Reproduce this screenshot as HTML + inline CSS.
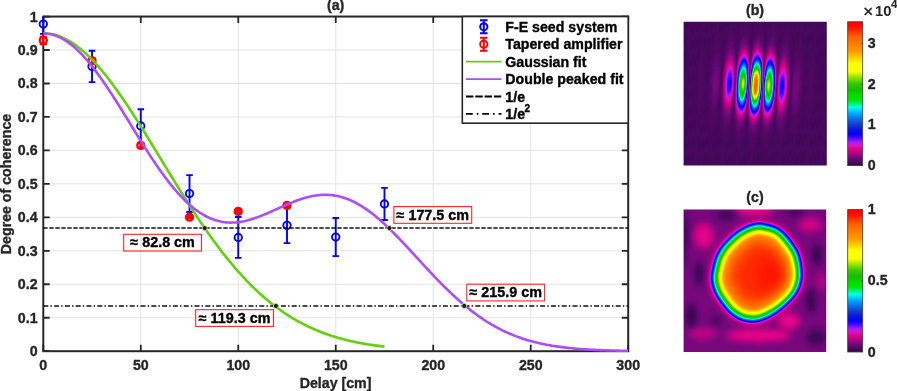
<!DOCTYPE html><html><head><meta charset="utf-8"><style>html,body{margin:0;padding:0;background:#fff;overflow:hidden}svg{display:block;will-change:transform;transform:translateZ(0)}text{font-family:"Liberation Sans",sans-serif;font-weight:bold;fill:#262626;stroke:#262626;stroke-width:0.35px;stroke-linejoin:round}</style></head><body>
<svg width="897" height="391" viewBox="0 0 897 391">
<rect width="897" height="391" fill="#fff"/>
<defs>
<filter id="cm" x="0" y="0" width="1" height="1" color-interpolation-filters="sRGB"><feComponentTransfer><feFuncR type="table" tableValues="0.204 0.235 0.267 0.310 0.364 0.418 0.482 0.559 0.636 0.710 0.781 0.852 0.886 0.866 0.845 0.768 0.683 0.569 0.448 0.326 0.213 0.101 0.001 0.007 0.013 0.020 0.035 0.050 0.065 0.064 0.053 0.042 0.031 0.024 0.017 0.009 0.002 0.000 0.000 0.000 0.000 0.000 0.000 0.000 0.000 0.000 0.000 0.000 0.000 0.000 0.023 0.047 0.070 0.094 0.122 0.149 0.177 0.204 0.289 0.373 0.458 0.543 0.627 0.734 0.840 0.947 1.000 1.000 1.000 1.000 1.000 1.000 1.000 1.000 1.000 1.000 1.000 1.000 1.000 1.000 1.000 1.000 1.000 1.000 1.000 1.000 1.000 1.000 1.000 1.000 1.000 1.000 1.000 1.000 1.000 1.000 1.000 1.000 1.000 1.000 1.000"/><feFuncG type="table" tableValues="0.031 0.031 0.031 0.031 0.031 0.031 0.029 0.024 0.018 0.013 0.008 0.003 0.013 0.044 0.075 0.095 0.114 0.096 0.069 0.042 0.027 0.013 0.003 0.031 0.058 0.086 0.128 0.169 0.211 0.258 0.309 0.361 0.412 0.471 0.530 0.590 0.649 0.722 0.802 0.881 0.960 0.990 0.970 0.949 0.929 0.908 0.892 0.885 0.878 0.871 0.835 0.799 0.762 0.741 0.751 0.762 0.773 0.784 0.809 0.835 0.860 0.885 0.910 0.936 0.961 0.987 1.000 1.000 1.000 1.000 1.000 1.000 0.959 0.908 0.859 0.814 0.768 0.723 0.678 0.633 0.588 0.569 0.549 0.529 0.510 0.490 0.467 0.445 0.422 0.399 0.360 0.315 0.269 0.223 0.178 0.131 0.085 0.039 0.026 0.013 0.000"/><feFuncB type="table" tableValues="0.314 0.333 0.351 0.382 0.423 0.465 0.493 0.500 0.506 0.510 0.510 0.510 0.554 0.664 0.773 0.872 0.969 0.991 0.996 1.000 1.000 1.000 0.996 0.958 0.920 0.882 0.856 0.829 0.803 0.812 0.844 0.877 0.910 0.931 0.952 0.973 0.994 0.987 0.968 0.950 0.931 0.830 0.648 0.465 0.290 0.119 0.000 0.000 0.000 0.000 0.000 0.000 0.000 0.000 0.000 0.000 0.000 0.000 0.000 0.000 0.000 0.000 0.000 0.000 0.000 0.000 0.000 0.000 0.000 0.000 0.000 0.000 0.000 0.000 0.000 0.000 0.000 0.000 0.000 0.000 0.000 0.000 0.000 0.000 0.000 0.000 0.000 0.000 0.000 0.000 0.000 0.000 0.000 0.000 0.000 0.000 0.000 0.000 0.000 0.000 0.000"/></feComponentTransfer></filter>
<filter id="bl" x="-0.2" y="-0.2" width="1.4" height="1.4" color-interpolation-filters="sRGB"><feGaussianBlur stdDeviation="2.6"/></filter>
<filter id="cmb" x="0" y="0" width="1" height="1" color-interpolation-filters="sRGB"><feGaussianBlur stdDeviation="2.6"/><feComponentTransfer><feFuncR type="table" tableValues="0.204 0.235 0.267 0.310 0.364 0.418 0.482 0.559 0.636 0.710 0.781 0.852 0.886 0.866 0.845 0.768 0.683 0.569 0.448 0.326 0.213 0.101 0.001 0.007 0.013 0.020 0.035 0.050 0.065 0.064 0.053 0.042 0.031 0.024 0.017 0.009 0.002 0.000 0.000 0.000 0.000 0.000 0.000 0.000 0.000 0.000 0.000 0.000 0.000 0.000 0.023 0.047 0.070 0.094 0.122 0.149 0.177 0.204 0.289 0.373 0.458 0.543 0.627 0.734 0.840 0.947 1.000 1.000 1.000 1.000 1.000 1.000 1.000 1.000 1.000 1.000 1.000 1.000 1.000 1.000 1.000 1.000 1.000 1.000 1.000 1.000 1.000 1.000 1.000 1.000 1.000 1.000 1.000 1.000 1.000 1.000 1.000 1.000 1.000 1.000 1.000"/><feFuncG type="table" tableValues="0.031 0.031 0.031 0.031 0.031 0.031 0.029 0.024 0.018 0.013 0.008 0.003 0.013 0.044 0.075 0.095 0.114 0.096 0.069 0.042 0.027 0.013 0.003 0.031 0.058 0.086 0.128 0.169 0.211 0.258 0.309 0.361 0.412 0.471 0.530 0.590 0.649 0.722 0.802 0.881 0.960 0.990 0.970 0.949 0.929 0.908 0.892 0.885 0.878 0.871 0.835 0.799 0.762 0.741 0.751 0.762 0.773 0.784 0.809 0.835 0.860 0.885 0.910 0.936 0.961 0.987 1.000 1.000 1.000 1.000 1.000 1.000 0.959 0.908 0.859 0.814 0.768 0.723 0.678 0.633 0.588 0.569 0.549 0.529 0.510 0.490 0.467 0.445 0.422 0.399 0.360 0.315 0.269 0.223 0.178 0.131 0.085 0.039 0.026 0.013 0.000"/><feFuncB type="table" tableValues="0.314 0.333 0.351 0.382 0.423 0.465 0.493 0.500 0.506 0.510 0.510 0.510 0.554 0.664 0.773 0.872 0.969 0.991 0.996 1.000 1.000 1.000 0.996 0.958 0.920 0.882 0.856 0.829 0.803 0.812 0.844 0.877 0.910 0.931 0.952 0.973 0.994 0.987 0.968 0.950 0.931 0.830 0.648 0.465 0.290 0.119 0.000 0.000 0.000 0.000 0.000 0.000 0.000 0.000 0.000 0.000 0.000 0.000 0.000 0.000 0.000 0.000 0.000 0.000 0.000 0.000 0.000 0.000 0.000 0.000 0.000 0.000 0.000 0.000 0.000 0.000 0.000 0.000 0.000 0.000 0.000 0.000 0.000 0.000 0.000 0.000 0.000 0.000 0.000 0.000 0.000 0.000 0.000 0.000 0.000 0.000 0.000 0.000 0.000 0.000 0.000"/></feComponentTransfer></filter>
<linearGradient id="cbg" x1="0" y1="0" x2="0" y2="1"><stop offset="0.000" stop-color="rgb(255,0,0)"/><stop offset="0.030" stop-color="rgb(255,10,0)"/><stop offset="0.064" stop-color="rgb(255,50,0)"/><stop offset="0.107" stop-color="rgb(255,100,0)"/><stop offset="0.150" stop-color="rgb(255,125,0)"/><stop offset="0.200" stop-color="rgb(255,150,0)"/><stop offset="0.235" stop-color="rgb(255,190,0)"/><stop offset="0.265" stop-color="rgb(255,225,0)"/><stop offset="0.288" stop-color="rgb(255,255,0)"/><stop offset="0.345" stop-color="rgb(255,255,0)"/><stop offset="0.380" stop-color="rgb(160,232,0)"/><stop offset="0.430" stop-color="rgb(52,200,0)"/><stop offset="0.473" stop-color="rgb(22,188,0)"/><stop offset="0.510" stop-color="rgb(0,222,0)"/><stop offset="0.543" stop-color="rgb(0,228,0)"/><stop offset="0.566" stop-color="rgb(0,240,100)"/><stop offset="0.595" stop-color="rgb(0,255,235)"/><stop offset="0.637" stop-color="rgb(0,170,255)"/><stop offset="0.680" stop-color="rgb(8,105,232)"/><stop offset="0.716" stop-color="rgb(18,58,202)"/><stop offset="0.750" stop-color="rgb(5,22,225)"/><stop offset="0.781" stop-color="rgb(0,0,255)"/><stop offset="0.809" stop-color="rgb(80,10,255)"/><stop offset="0.838" stop-color="rgb(170,30,252)"/><stop offset="0.859" stop-color="rgb(215,20,200)"/><stop offset="0.884" stop-color="rgb(228,0,130)"/><stop offset="0.915" stop-color="rgb(172,4,130)"/><stop offset="0.944" stop-color="rgb(115,8,125)"/><stop offset="0.975" stop-color="rgb(72,8,92)"/><stop offset="1.000" stop-color="rgb(52,8,80)"/></linearGradient>
<radialGradient id="env" gradientUnits="userSpaceOnUse" cx="755.9" cy="84.8" r="70" gradientTransform="translate(0 84.8) scale(1 1.02) translate(0 -84.8)"><stop offset="0.0000" stop-color="#e8e8e8"/><stop offset="0.0286" stop-color="#e7e7e7"/><stop offset="0.0571" stop-color="#e5e5e5"/><stop offset="0.0857" stop-color="#e1e1e1"/><stop offset="0.1143" stop-color="#d7d7d7"/><stop offset="0.1429" stop-color="#c8c8c8"/><stop offset="0.1714" stop-color="#b3b3b3"/><stop offset="0.2000" stop-color="#9c9c9c"/><stop offset="0.2286" stop-color="#8c8c8c"/><stop offset="0.2571" stop-color="#7d7d7d"/><stop offset="0.2857" stop-color="#6d6d6d"/><stop offset="0.3143" stop-color="#5d5d5d"/><stop offset="0.3429" stop-color="#4d4d4d"/><stop offset="0.3714" stop-color="#3f3f3f"/><stop offset="0.4000" stop-color="#333333"/><stop offset="0.4286" stop-color="#2a2a2a"/><stop offset="0.4571" stop-color="#222222"/><stop offset="0.4857" stop-color="#1c1c1c"/><stop offset="0.5143" stop-color="#171717"/><stop offset="0.5429" stop-color="#131313"/><stop offset="0.5714" stop-color="#101010"/><stop offset="0.6000" stop-color="#0e0e0e"/><stop offset="0.6286" stop-color="#0c0c0c"/><stop offset="0.6571" stop-color="#0b0b0b"/><stop offset="0.6857" stop-color="#0a0a0a"/><stop offset="0.7143" stop-color="#090909"/><stop offset="0.7429" stop-color="#080808"/><stop offset="0.7714" stop-color="#080808"/><stop offset="0.8000" stop-color="#080808"/><stop offset="0.8286" stop-color="#070707"/><stop offset="0.8571" stop-color="#070707"/><stop offset="0.8857" stop-color="#070707"/><stop offset="0.9143" stop-color="#060606"/><stop offset="0.9429" stop-color="#060606"/><stop offset="0.9714" stop-color="#060606"/><stop offset="1.0000" stop-color="#060606"/></radialGradient>
<linearGradient id="fr" gradientUnits="userSpaceOnUse" x1="748.925" y1="0" x2="762.875" y2="0" spreadMethod="repeat" gradientTransform="rotate(3.4 755.9 84.8)"><stop offset="0.0000" stop-color="#060606"/><stop offset="0.0417" stop-color="#1c1c1c"/><stop offset="0.0833" stop-color="#373737"/><stop offset="0.1250" stop-color="#555555"/><stop offset="0.1667" stop-color="#737373"/><stop offset="0.2083" stop-color="#8f8f8f"/><stop offset="0.2500" stop-color="#aaaaaa"/><stop offset="0.2917" stop-color="#c3c3c3"/><stop offset="0.3333" stop-color="#d8d8d8"/><stop offset="0.3750" stop-color="#e8e8e8"/><stop offset="0.4167" stop-color="#f5f5f5"/><stop offset="0.4583" stop-color="#fcfcfc"/><stop offset="0.5000" stop-color="#ffffff"/><stop offset="0.5417" stop-color="#fcfcfc"/><stop offset="0.5833" stop-color="#f5f5f5"/><stop offset="0.6250" stop-color="#e8e8e8"/><stop offset="0.6667" stop-color="#d8d8d8"/><stop offset="0.7083" stop-color="#c3c3c3"/><stop offset="0.7500" stop-color="#aaaaaa"/><stop offset="0.7917" stop-color="#8f8f8f"/><stop offset="0.8333" stop-color="#737373"/><stop offset="0.8750" stop-color="#555555"/><stop offset="0.9167" stop-color="#373737"/><stop offset="0.9583" stop-color="#1c1c1c"/><stop offset="1.0000" stop-color="#060606"/></linearGradient>
<mask id="frm" maskUnits="userSpaceOnUse" x="680" y="20" width="150" height="150"><rect x="680" y="20" width="150" height="150" fill="url(#fr)"/></mask>
<radialGradient id="disc" gradientUnits="userSpaceOnUse" cx="756.9" cy="272.8" r="42.6" gradientTransform="translate(0 272.8) scale(1 1.106) translate(0 -272.8)"><stop offset="0" stop-color="#f1f1f1"/><stop offset="0.5" stop-color="#ededed"/><stop offset="0.68" stop-color="#dfdfdf"/><stop offset="0.76" stop-color="#cfcfcf"/><stop offset="0.84" stop-color="#bfbfbf"/><stop offset="0.92" stop-color="#b2b2b2"/><stop offset="1.0" stop-color="#a3a3a3"/></radialGradient>
<radialGradient id="hot"><stop offset="0" stop-color="#fff" stop-opacity="0.45"/><stop offset="0.5" stop-color="#fff" stop-opacity="0.25"/><stop offset="1" stop-color="#fff" stop-opacity="0"/></radialGradient>
<clipPath id="cpb"><rect x="683.6" y="21.8" width="143.2" height="143.8"/></clipPath>
<clipPath id="cpc"><rect x="683.6" y="209.6" width="142.6" height="142.4"/></clipPath>
<clipPath id="cp"><rect x="43.3" y="16.55" width="584.9000000000001" height="335.65"/></clipPath>
</defs>
<path d="M140.78 16.55V351.2M238.27 16.55V351.2M335.75 16.55V351.2M433.23 16.55V351.2M530.72 16.55V351.2M43.3 317.74H628.2M43.3 284.27H628.2M43.3 250.81H628.2M43.3 217.34H628.2M43.3 183.88H628.2M43.3 150.41H628.2M43.3 116.95H628.2M43.3 83.48H628.2M43.3 50.01H628.2" stroke="#e3e3e3" stroke-width="1" fill="none"/>
<path d="M43.30 351.2v-6.4M43.30 16.55v6.4M140.78 351.2v-6.4M140.78 16.55v6.4M238.27 351.2v-6.4M238.27 16.55v6.4M335.75 351.2v-6.4M335.75 16.55v6.4M433.23 351.2v-6.4M433.23 16.55v6.4M530.72 351.2v-6.4M530.72 16.55v6.4M628.20 351.2v-6.4M628.20 16.55v6.4M43.3 351.20h6.4M628.2 351.20h-6.4M43.3 317.74h6.4M628.2 317.74h-6.4M43.3 284.27h6.4M628.2 284.27h-6.4M43.3 250.81h6.4M628.2 250.81h-6.4M43.3 217.34h6.4M628.2 217.34h-6.4M43.3 183.88h6.4M628.2 183.88h-6.4M43.3 150.41h6.4M628.2 150.41h-6.4M43.3 116.95h6.4M628.2 116.95h-6.4M43.3 83.48h6.4M628.2 83.48h-6.4M43.3 50.01h6.4M628.2 50.01h-6.4M43.3 16.55h6.4M628.2 16.55h-6.4" stroke="#262626" stroke-width="1.8" fill="none"/>
<rect x="43.3" y="16.55" width="584.9000000000001" height="334.65" stroke="#262626" stroke-width="2.0" fill="none"/>
<path d="M43.30 16.55V33.88M40.00 33.88H46.60" stroke="#0000ff" stroke-width="1.9" fill="none"/><circle cx="43.30" cy="24.05" r="3.7" stroke="#0000ff" stroke-width="1.9" fill="none"/>
<path d="M92.04 50.68V82.14M88.74 50.68H95.34M88.74 82.14H95.34" stroke="#0000ff" stroke-width="1.9" fill="none"/><circle cx="92.04" cy="66.41" r="3.7" stroke="#0000ff" stroke-width="1.9" fill="none"/>
<path d="M140.78 109.25V142.71M137.48 109.25H144.08M137.48 142.71H144.08" stroke="#0000ff" stroke-width="1.9" fill="none"/><circle cx="140.78" cy="125.98" r="3.7" stroke="#0000ff" stroke-width="1.9" fill="none"/>
<path d="M189.53 175.17V211.99M186.23 175.17H192.83M186.23 211.99H192.83" stroke="#0000ff" stroke-width="1.9" fill="none"/><circle cx="189.53" cy="193.58" r="3.7" stroke="#0000ff" stroke-width="1.9" fill="none"/>
<path d="M238.27 217.01V257.83M234.97 217.01H241.57M234.97 257.83H241.57" stroke="#0000ff" stroke-width="1.9" fill="none"/><circle cx="238.27" cy="237.42" r="3.7" stroke="#0000ff" stroke-width="1.9" fill="none"/>
<path d="M287.01 207.64V243.11M283.71 207.64H290.31M283.71 243.11H290.31" stroke="#0000ff" stroke-width="1.9" fill="none"/><circle cx="287.01" cy="225.37" r="3.7" stroke="#0000ff" stroke-width="1.9" fill="none"/>
<path d="M335.75 218.01V256.16M332.45 218.01H339.05M332.45 256.16H339.05" stroke="#0000ff" stroke-width="1.9" fill="none"/><circle cx="335.75" cy="237.08" r="3.7" stroke="#0000ff" stroke-width="1.9" fill="none"/>
<path d="M384.49 187.89V220.02M381.19 187.89H387.79M381.19 220.02H387.79" stroke="#0000ff" stroke-width="1.9" fill="none"/><circle cx="384.49" cy="203.95" r="3.7" stroke="#0000ff" stroke-width="1.9" fill="none"/>
<path d="M43.30 36.80V44.02M39.80 36.80H46.80M39.80 44.02H46.80" stroke="#ff0000" stroke-width="2.3" fill="none"/><circle cx="43.30" cy="40.41" r="3.5" stroke="#ff0000" stroke-width="2.3" fill="none"/>
<path d="M92.04 58.05V63.40M88.54 58.05H95.54M88.54 63.40H95.54" stroke="#ff0000" stroke-width="2.3" fill="none"/><circle cx="92.04" cy="60.72" r="3.5" stroke="#ff0000" stroke-width="2.3" fill="none"/>
<path d="M140.78 143.45V147.47M137.28 143.45H144.28M137.28 147.47H144.28" stroke="#ff0000" stroke-width="2.3" fill="none"/><circle cx="140.78" cy="145.46" r="3.5" stroke="#ff0000" stroke-width="2.3" fill="none"/>
<path d="M189.53 216.20V218.21M186.03 216.20H193.03M186.03 218.21H193.03" stroke="#ff0000" stroke-width="2.3" fill="none"/><circle cx="189.53" cy="217.21" r="3.5" stroke="#ff0000" stroke-width="2.3" fill="none"/>
<path d="M238.27 210.18V212.59M234.77 210.18H241.77M234.77 212.59H241.77" stroke="#ff0000" stroke-width="2.3" fill="none"/><circle cx="238.27" cy="211.38" r="3.5" stroke="#ff0000" stroke-width="2.3" fill="none"/>
<path d="M287.01 204.39V206.40M283.51 204.39H290.51M283.51 206.40H290.51" stroke="#ff0000" stroke-width="2.3" fill="none"/><circle cx="287.01" cy="205.39" r="3.5" stroke="#ff0000" stroke-width="2.3" fill="none"/>
<g clip-path="url(#cp)">
<path d="M43.30 33.28L45.25 33.33L47.20 33.46L49.15 33.68L51.10 33.99L53.05 34.38L55.00 34.86L56.95 35.43L58.90 36.09L60.85 36.83L62.80 37.65L64.75 38.56L66.70 39.56L68.65 40.63L70.60 41.79L72.55 43.03L74.49 44.35L76.44 45.75L78.39 47.22L80.34 48.78L82.29 50.41L84.24 52.11L86.19 53.88L88.14 55.73L90.09 57.64L92.04 59.63L93.99 61.68L95.94 63.80L97.89 65.97L99.84 68.22L101.79 70.52L103.74 72.88L105.69 75.29L107.64 77.76L109.59 80.29L111.54 82.86L113.49 85.49L115.44 88.16L117.39 90.88L119.34 93.63L121.29 96.44L123.24 99.28L125.19 102.15L127.14 105.07L129.09 108.01L131.04 110.99L132.98 114.00L134.93 117.03L136.88 120.09L138.83 123.17L140.78 126.27L142.73 129.40L144.68 132.54L146.63 135.69L148.58 138.86L150.53 142.04L152.48 145.23L154.43 148.42L156.38 151.63L158.33 154.83L160.28 158.04L162.23 161.25L164.18 164.45L166.13 167.66L168.08 170.86L170.03 174.05L171.98 177.23L173.93 180.40L175.88 183.56L177.83 186.71L179.78 189.85L181.73 192.97L183.68 196.07L185.63 199.15L187.58 202.21L189.53 205.25L191.47 208.27L193.42 211.27L195.37 214.24L197.32 217.18L199.27 220.10L201.22 222.99L203.17 225.85L205.12 228.68L207.07 231.48L209.02 234.24L210.97 236.98L212.92 239.68L214.87 242.35L216.82 244.99L218.77 247.58L220.72 250.15L222.67 252.68L224.62 255.17L226.57 257.62L228.52 260.04L230.47 262.41L232.42 264.76L234.37 267.06L236.32 269.32L238.27 271.54L240.22 273.73L242.17 275.88L244.12 277.98L246.07 280.05L248.02 282.08L249.96 284.07L251.91 286.02L253.86 287.93L255.81 289.80L257.76 291.64L259.71 293.43L261.66 295.19L263.61 296.90L265.56 298.58L267.51 300.22L269.46 301.83L271.41 303.40L273.36 304.93L275.31 306.42L277.26 307.88L279.21 309.30L281.16 310.68L283.11 312.03L285.06 313.35L287.01 314.63L288.96 315.88L290.91 317.10L292.86 318.28L294.81 319.43L296.76 320.55L298.71 321.64L300.66 322.69L302.61 323.72L304.56 324.72L306.51 325.68L308.45 326.62L310.40 327.53L312.35 328.42L314.30 329.28L316.25 330.11L318.20 330.91L320.15 331.69L322.10 332.44L324.05 333.18L326.00 333.88L327.95 334.57L329.90 335.23L331.85 335.87L333.80 336.48L335.75 337.08L337.70 337.66L339.65 338.21L341.60 338.75L343.55 339.27L345.50 339.77L347.45 340.25L349.40 340.71L351.35 341.16L353.30 341.59L355.25 342.01L357.20 342.41L359.15 342.79L361.10 343.16L363.05 343.52L365.00 343.86L366.94 344.19L368.89 344.50L370.84 344.81L372.79 345.10L374.74 345.38L376.69 345.65L378.64 345.90L380.59 346.15L382.54 346.39L384.49 346.61" stroke="#62d00c" stroke-width="2.6" fill="none" stroke-linejoin="round"/>
<path d="M43.30 33.53L45.25 33.55L47.20 33.69L49.15 33.95L51.10 34.32L53.05 34.80L55.00 35.40L56.95 36.11L58.90 36.93L60.85 37.86L62.80 38.90L64.75 40.05L66.70 41.30L68.65 42.66L70.60 44.12L72.55 45.68L74.49 47.34L76.44 49.09L78.39 50.94L80.34 52.88L82.29 54.91L84.24 57.02L86.19 59.22L88.14 61.49L90.09 63.85L92.04 66.27L93.99 68.77L95.94 71.34L97.89 73.97L99.84 76.66L101.79 79.41L103.74 82.21L105.69 85.07L107.64 87.97L109.59 90.92L111.54 93.90L113.49 96.92L115.44 99.97L117.39 103.06L119.34 106.16L121.29 109.29L123.24 112.43L125.19 115.59L127.14 118.76L129.09 121.93L131.04 125.11L132.98 128.28L134.93 131.45L136.88 134.61L138.83 137.76L140.78 140.89L142.73 144.00L144.68 147.08L146.63 150.14L148.58 153.17L150.53 156.17L152.48 159.13L154.43 162.04L156.38 164.92L158.33 167.75L160.28 170.53L162.23 173.26L164.18 175.93L166.13 178.54L168.08 181.10L170.03 183.59L171.98 186.02L173.93 188.38L175.88 190.67L177.83 192.90L179.78 195.04L181.73 197.12L183.68 199.12L185.63 201.04L187.58 202.88L189.53 204.64L191.47 206.32L193.42 207.92L195.37 209.44L197.32 210.87L199.27 212.22L201.22 213.48L203.17 214.66L205.12 215.76L207.07 216.77L209.02 217.70L210.97 218.54L212.92 219.31L214.87 219.98L216.82 220.58L218.77 221.10L220.72 221.54L222.67 221.90L224.62 222.18L226.57 222.39L228.52 222.52L230.47 222.58L232.42 222.57L234.37 222.49L236.32 222.35L238.27 222.14L240.22 221.88L242.17 221.55L244.12 221.17L246.07 220.73L248.02 220.24L249.96 219.70L251.91 219.12L253.86 218.50L255.81 217.83L257.76 217.14L259.71 216.40L261.66 215.64L263.61 214.85L265.56 214.04L267.51 213.21L269.46 212.36L271.41 211.49L273.36 210.62L275.31 209.74L277.26 208.86L279.21 207.98L281.16 207.10L283.11 206.23L285.06 205.37L287.01 204.52L288.96 203.69L290.91 202.88L292.86 202.09L294.81 201.33L296.76 200.59L298.71 199.89L300.66 199.22L302.61 198.59L304.56 198.00L306.51 197.45L308.45 196.95L310.40 196.50L312.35 196.09L314.30 195.74L316.25 195.44L318.20 195.19L320.15 195.00L322.10 194.87L324.05 194.80L326.00 194.79L327.95 194.85L329.90 194.97L331.85 195.15L333.80 195.40L335.75 195.71L337.70 196.09L339.65 196.54L341.60 197.05L343.55 197.64L345.50 198.28L347.45 199.00L349.40 199.78L351.35 200.63L353.30 201.54L355.25 202.52L357.20 203.56L359.15 204.67L361.10 205.83L363.05 207.06L365.00 208.34L366.94 209.68L368.89 211.08L370.84 212.54L372.79 214.04L374.74 215.60L376.69 217.20L378.64 218.86L380.59 220.56L382.54 222.30L384.49 224.08L386.44 225.90L388.39 227.76L390.34 229.65L392.29 231.57L394.24 233.53L396.19 235.51L398.14 237.51L400.09 239.54L402.04 241.59L403.99 243.66L405.94 245.74L407.89 247.83L409.84 249.94L411.79 252.05L413.74 254.17L415.69 256.29L417.64 258.42L419.59 260.55L421.54 262.67L423.49 264.79L425.43 266.90L427.38 269.00L429.33 271.09L431.28 273.17L433.23 275.24L435.18 277.28L437.13 279.32L439.08 281.33L441.03 283.32L442.98 285.29L444.93 287.23L446.88 289.15L448.83 291.05L450.78 292.92L452.73 294.76L454.68 296.57L456.63 298.35L458.58 300.09L460.53 301.81L462.48 303.49L464.43 305.14L466.38 306.76L468.33 308.34L470.28 309.89L472.23 311.41L474.18 312.88L476.13 314.33L478.08 315.73L480.03 317.10L481.98 318.44L483.92 319.74L485.87 321.00L487.82 322.23L489.77 323.43L491.72 324.58L493.67 325.71L495.62 326.80L497.57 327.85L499.52 328.87L501.47 329.86L503.42 330.81L505.37 331.74L507.32 332.63L509.27 333.48L511.22 334.31L513.17 335.11L515.12 335.88L517.07 336.62L519.02 337.33L520.97 338.01L522.92 338.67L524.87 339.30L526.82 339.90L528.77 340.48L530.72 341.04L532.67 341.57L534.62 342.08L536.57 342.56L538.52 343.03L540.47 343.47L542.41 343.89L544.36 344.30L546.31 344.68L548.26 345.05L550.21 345.40L552.16 345.73L554.11 346.05L556.06 346.35L558.01 346.63L559.96 346.90L561.91 347.16L563.86 347.40L565.81 347.63L567.76 347.85L569.71 348.06L571.66 348.25L573.61 348.44L575.56 348.61L577.51 348.78L579.46 348.93L581.41 349.08L583.36 349.22L585.31 349.35L587.26 349.47L589.21 349.59L591.16 349.69L593.11 349.80L595.06 349.89L597.01 349.98L598.96 350.07L600.90 350.15L602.85 350.22L604.80 350.29L606.75 350.35L608.70 350.41L610.65 350.47L612.60 350.52L614.55 350.57L616.50 350.62L618.45 350.66L620.40 350.70L622.35 350.74L624.30 350.77L626.25 350.81L628.20 350.84" stroke="#ad4dfa" stroke-width="2.6" fill="none" stroke-linejoin="round"/>
</g>
<path d="M43.3 228.09H628.2" stroke="#111" stroke-width="1.5" stroke-dasharray="4.4 1.6" fill="none"/>
<path d="M43.3 305.91H628.2" stroke="#111" stroke-width="1.5" stroke-dasharray="5 2.1 1.5 2.2" fill="none"/>
<circle cx="204.73" cy="228.09" r="2.55" fill="#1c1c10" stroke="#f2f2c0" stroke-width="0.8"/>
<circle cx="389.37" cy="228.09" r="2.55" fill="#1c1c10" stroke="#f2f2c0" stroke-width="0.8"/>
<circle cx="275.90" cy="305.91" r="2.55" fill="#1c1c10" stroke="#f2f2c0" stroke-width="0.8"/>
<circle cx="464.23" cy="305.91" r="2.55" fill="#1c1c10" stroke="#f2f2c0" stroke-width="0.8"/>
<text x="43.30" y="369.7" font-size="14.2" text-anchor="middle">0</text>
<text x="140.78" y="369.7" font-size="14.2" text-anchor="middle">50</text>
<text x="238.27" y="369.7" font-size="14.2" text-anchor="middle">100</text>
<text x="335.75" y="369.7" font-size="14.2" text-anchor="middle">150</text>
<text x="433.23" y="369.7" font-size="14.2" text-anchor="middle">200</text>
<text x="530.72" y="369.7" font-size="14.2" text-anchor="middle">250</text>
<text x="628.20" y="369.7" font-size="14.2" text-anchor="middle">300</text>
<text x="37.6" y="356.20" font-size="14.2" text-anchor="end">0</text>
<text x="37.6" y="322.74" font-size="14.2" text-anchor="end">0.1</text>
<text x="37.6" y="289.27" font-size="14.2" text-anchor="end">0.2</text>
<text x="37.6" y="255.81" font-size="14.2" text-anchor="end">0.3</text>
<text x="37.6" y="222.34" font-size="14.2" text-anchor="end">0.4</text>
<text x="37.6" y="188.88" font-size="14.2" text-anchor="end">0.5</text>
<text x="37.6" y="155.41" font-size="14.2" text-anchor="end">0.6</text>
<text x="37.6" y="121.95" font-size="14.2" text-anchor="end">0.7</text>
<text x="37.6" y="88.48" font-size="14.2" text-anchor="end">0.8</text>
<text x="37.6" y="55.01" font-size="14.2" text-anchor="end">0.9</text>
<text x="37.6" y="21.55" font-size="14.2" text-anchor="end">1</text>
<text x="335.6" y="388" font-size="14.2" text-anchor="middle">Delay [cm]</text>
<text x="335.6" y="9.8" font-size="14.2" text-anchor="middle">(a)</text>
<text transform="translate(11.2 184) rotate(-90)" font-size="14.2" text-anchor="middle">Degree of coherence</text>
<rect x="123.7" y="234.3" width="77.8" height="16.7" fill="none" stroke="#ff2626" stroke-width="1.1"/><text x="162.60" y="247.20" font-size="14.35" text-anchor="middle" style="fill:#000;stroke:#000">≈ 82.8 cm</text>
<rect x="195.7" y="309.7" width="77.8" height="16.7" fill="none" stroke="#ff2626" stroke-width="1.1"/><text x="234.60" y="322.60" font-size="14.35" text-anchor="middle" style="fill:#000;stroke:#000">≈ 119.3 cm</text>
<rect x="393.9" y="206.6" width="77.8" height="16.7" fill="none" stroke="#ff2626" stroke-width="1.1"/><text x="432.80" y="219.50" font-size="14.35" text-anchor="middle" style="fill:#000;stroke:#000">≈ 177.5 cm</text>
<rect x="466.8" y="284.2" width="77.8" height="16.7" fill="none" stroke="#ff2626" stroke-width="1.1"/><text x="505.70" y="297.10" font-size="14.35" text-anchor="middle" style="fill:#000;stroke:#000">≈ 215.9 cm</text>
<rect x="462.3" y="16.55" width="165.90000000000003" height="106.65" fill="#fff" stroke="#262626" stroke-width="1.6"/>
<text x="505.3" y="31.80" font-size="14.2" style="fill:#000;stroke:#000">F-E seed system</text>
<text x="505.3" y="49.20" font-size="14.2" style="fill:#000;stroke:#000">Tapered amplifier</text>
<text x="505.3" y="66.70" font-size="14.2" style="fill:#000;stroke:#000">Gaussian fit</text>
<text x="505.3" y="84.10" font-size="14.2" style="fill:#000;stroke:#000">Double peaked fit</text>
<text x="505.3" y="101.50" font-size="14.2" style="fill:#000;stroke:#000">1/e</text>
<text x="505.3" y="118.90" font-size="14.2" style="fill:#000;stroke:#000">1/e</text>
<text x="524.6" y="112.0" font-size="10" style="fill:#000;stroke:#000">2</text>
<path d="M483.8 20.3V33.3M480.0 20.3H487.6M480.0 33.3H487.6" stroke="#0000ff" stroke-width="2" fill="none"/><circle cx="483.8" cy="26.8" r="3.6" stroke="#0000ff" stroke-width="2" fill="none"/>
<path d="M483.8 37.7V50.7M480.0 37.7H487.6M480.0 50.7H487.6" stroke="#ff0000" stroke-width="2" fill="none"/><circle cx="483.8" cy="44.2" r="3.6" stroke="#ff0000" stroke-width="2" fill="none"/>
<path d="M466 61.7H501.5" stroke="#62d00c" stroke-width="1.7"/>
<path d="M466 79.1H501.5" stroke="#ad4dfa" stroke-width="1.7"/>
<path d="M466 96.5H501.5" stroke="#000" stroke-width="1.8" stroke-dasharray="7.4 1.9"/>
<path d="M466 113.9H501.5" stroke="#000" stroke-width="1.8" stroke-dasharray="6.7 4 1.7 3.9"/>
<text x="755" y="14.7" font-size="14.2" text-anchor="middle">(b)</text>
<g clip-path="url(#cpb)"><g filter="url(#cm)">
<rect x="680" y="20" width="150" height="150" fill="#060606"/>
<rect x="680" y="20" width="150" height="150" fill="url(#env)" mask="url(#frm)" style="mix-blend-mode:normal"/>
</g></g>
<rect x="847.7" y="21.8" width="15" height="143.8" fill="url(#cbg)" stroke="#3a3a3a" stroke-width="0.8"/>
<text x="867.8" y="170.00" font-size="14.2">0</text>
<text x="867.8" y="129.35" font-size="14.2">1</text>
<path d="M862.7 124.85h-1.6" stroke="#333" stroke-width="0.8"/>
<text x="867.8" y="88.70" font-size="14.2">2</text>
<path d="M862.7 84.20h-1.6" stroke="#333" stroke-width="0.8"/>
<text x="867.8" y="48.05" font-size="14.2">3</text>
<path d="M862.7 43.55h-1.6" stroke="#333" stroke-width="0.8"/>
<text x="868.1" y="16.9" font-size="17" text-anchor="middle" style="font-weight:normal;stroke-width:0.45px">×</text><text x="875" y="15.7" font-size="14.8" style="stroke-width:0">10</text><text x="890.9" y="8.3" font-size="11.5" style="stroke-width:0.1px">4</text>
<text x="755" y="202.4" font-size="14.2" text-anchor="middle">(c)</text>
<g clip-path="url(#cpc)"><g filter="url(#cmb)">
<rect x="670" y="196" width="170" height="170" fill="#0f0f0f"/>
<g filter="url(#bl)">
<ellipse cx="758.6" cy="335.4" rx="32.6" ry="6.1" fill="#202020"/>
<ellipse cx="789.3" cy="321.2" rx="10.7" ry="7.7" fill="#212121"/>
<ellipse cx="703.8" cy="235.7" rx="10.0" ry="12.3" fill="#1f1f1f"/>
<ellipse cx="754.8" cy="209.6" rx="19.2" ry="5.4" fill="#222222"/>
<ellipse cx="691.5" cy="316.2" rx="4.6" ry="11.5" fill="#000000"/>
<ellipse cx="811.2" cy="300.9" rx="3.8" ry="12.3" fill="#000000"/>
<ellipse cx="816.9" cy="254.9" rx="3.8" ry="10.7" fill="#000000"/>
<ellipse cx="699.2" cy="274.0" rx="3.8" ry="11.5" fill="#010101"/>
<ellipse cx="810.4" cy="224.9" rx="11.5" ry="6.9" fill="#1c1c1c"/>
<ellipse cx="703.0" cy="333.5" rx="13.8" ry="5.4" fill="#1a1a1a"/>
<ellipse cx="816.2" cy="337.3" rx="9.2" ry="6.9" fill="#030303"/>
<ellipse cx="726.0" cy="215.7" rx="10.7" ry="3.8" fill="#030303"/>
<ellipse cx="686.1" cy="251.0" rx="3.8" ry="10.0" fill="#1a1a1a"/>
<ellipse cx="821.9" cy="281.7" rx="3.8" ry="9.2" fill="#1a1a1a"/>
<ellipse cx="795.1" cy="212.7" rx="7.7" ry="3.8" fill="#050505"/>
<ellipse cx="716.4" cy="320.1" rx="5.4" ry="4.6" fill="#050505"/>
<ellipse cx="684.6" cy="239.5" rx="3.8" ry="26.9" fill="#050505"/>
<ellipse cx="733.7" cy="254.9" rx="3.8" ry="3.8" fill="#050505"/>
<path d="M760.2 219.8C762.2 219.7 761.7 220.2 763.8 220.6C765.8 221.1 770.0 221.7 772.6 222.5C775.3 223.3 777.6 224.1 779.8 225.4C782.1 226.8 784.1 228.6 786.1 230.4C788.0 232.3 789.7 234.3 791.5 236.6C793.3 238.8 795.3 241.4 796.9 243.7C798.5 246.1 799.9 248.3 801.0 250.8C802.1 253.4 802.9 256.1 803.6 258.9C804.2 261.7 804.8 264.8 805.1 267.8C805.4 270.9 805.5 274.6 805.4 277.3C805.2 280.0 804.8 281.6 804.1 284.1C803.4 286.6 802.6 289.5 801.1 292.2C799.6 294.9 797.3 297.9 795.2 300.3C793.2 302.7 791.3 304.6 789.0 306.6C786.8 308.7 784.5 310.8 781.7 312.9C779.0 314.9 775.7 317.3 772.7 319.0C769.7 320.7 766.8 322.0 763.8 323.1C760.8 324.1 758.2 325.0 754.9 325.2C751.6 325.4 747.3 324.9 744.0 324.1C740.8 323.3 737.8 322.1 735.2 320.6C732.5 319.1 730.2 317.3 727.9 315.3C725.7 313.2 723.6 310.6 721.6 308.3C719.7 305.9 717.9 303.6 716.2 301.1C714.6 298.6 712.9 295.9 711.8 293.0C710.6 290.2 709.7 286.7 709.1 284.1C708.5 281.5 708.3 280.0 708.4 277.3C708.5 274.6 709.1 271.2 709.8 267.8C710.5 264.4 711.0 260.8 712.5 257.0C714.0 253.3 716.4 248.8 718.8 245.4C721.2 241.9 724.2 239.1 726.9 236.4C729.6 233.7 732.2 231.4 735.0 229.4C737.9 227.3 741.2 225.5 744.0 224.1C746.8 222.7 749.4 221.8 752.1 221.1C754.8 220.4 758.3 219.9 760.2 219.8Z" fill="#1b1b1b"/>
</g>
<path d="M760.0 223.8C761.8 223.7 761.3 224.2 763.2 224.6C765.1 225.0 769.0 225.5 771.5 226.3C773.9 227.0 776.0 227.8 778.1 229.1C780.1 230.3 782.0 232.0 783.8 233.7C785.6 235.4 787.1 237.4 788.8 239.5C790.4 241.5 792.2 243.9 793.7 246.1C795.1 248.3 796.4 250.3 797.5 252.6C798.5 254.9 799.1 257.4 799.7 260.0C800.3 262.6 800.8 265.4 801.1 268.3C801.4 271.1 801.6 274.5 801.4 277.0C801.3 279.4 800.9 280.9 800.2 283.2C799.6 285.5 798.8 288.1 797.4 290.6C796.1 293.1 793.9 295.8 792.0 298.0C790.1 300.2 788.3 301.8 786.3 303.7C784.2 305.6 782.1 307.6 779.6 309.5C777.2 311.4 774.2 313.6 771.4 315.2C768.7 316.8 766.0 318.1 763.2 319.1C760.5 320.1 758.1 321.0 755.0 321.2C752.0 321.4 748.1 320.9 745.0 320.2C742.0 319.5 739.3 318.3 736.8 316.9C734.3 315.6 732.2 313.9 730.2 312.0C728.1 310.1 726.2 307.6 724.5 305.4C722.7 303.2 721.0 301.2 719.5 298.8C718.0 296.5 716.5 294.0 715.4 291.4C714.3 288.8 713.5 285.6 713.0 283.2C712.5 280.8 712.3 279.4 712.4 277.0C712.5 274.5 713.2 271.4 713.8 268.3C714.4 265.2 714.9 261.8 716.3 258.4C717.6 254.9 719.8 250.8 722.0 247.7C724.2 244.5 726.9 241.9 729.4 239.5C731.9 237.0 734.2 234.9 736.8 232.9C739.4 231.0 742.4 229.3 745.0 228.0C747.6 226.7 750.0 225.8 752.4 225.1C754.9 224.4 758.2 223.9 760.0 223.8Z" fill="#6a6a6a"/>
<path d="M759.9 225.3C761.6 225.2 761.2 225.7 763.0 226.1C764.9 226.5 768.6 227.0 771.0 227.7C773.4 228.4 775.4 229.2 777.4 230.4C779.4 231.6 781.3 233.3 783.0 234.9C784.7 236.6 786.1 238.5 787.7 240.5C789.3 242.6 791.1 244.9 792.5 247.0C793.9 249.1 795.1 251.0 796.1 253.3C797.1 255.5 797.7 258.0 798.3 260.5C798.9 263.0 799.3 265.7 799.6 268.4C799.9 271.1 800.1 274.4 799.9 276.8C799.8 279.2 799.4 280.6 798.8 282.8C798.1 285.0 797.4 287.6 796.1 290.0C794.7 292.4 792.6 295.0 790.8 297.1C789.0 299.2 787.2 300.8 785.2 302.6C783.2 304.5 781.2 306.3 778.8 308.2C776.5 310.1 773.6 312.2 771.0 313.8C768.3 315.4 765.7 316.6 763.0 317.6C760.4 318.6 758.0 319.5 755.1 319.7C752.1 319.9 748.3 319.4 745.4 318.8C742.4 318.1 739.8 316.9 737.4 315.6C735.0 314.2 733.0 312.6 731.0 310.7C729.0 308.9 727.2 306.5 725.5 304.4C723.8 302.2 722.2 300.2 720.7 298.0C719.3 295.7 717.8 293.3 716.8 290.8C715.7 288.3 714.9 285.2 714.4 282.8C714.0 280.5 713.8 279.2 713.9 276.8C714.0 274.4 714.7 271.4 715.3 268.4C715.9 265.4 716.4 262.2 717.7 258.9C719.0 255.6 721.1 251.6 723.2 248.6C725.3 245.5 728.0 243.0 730.4 240.6C732.8 238.3 735.0 236.2 737.5 234.3C740.0 232.4 742.9 230.7 745.4 229.4C747.9 228.2 750.2 227.3 752.6 226.6C755.0 225.9 758.1 225.4 759.9 225.3Z" fill="#787878"/>
<path d="M759.8 226.8C761.5 226.7 761.0 227.2 762.8 227.6C764.6 228.0 768.2 228.4 770.6 229.1C772.9 229.8 774.8 230.6 776.8 231.8C778.7 232.9 780.5 234.5 782.1 236.2C783.8 237.8 785.2 239.7 786.7 241.6C788.2 243.6 789.9 245.8 791.3 247.9C792.6 249.9 793.8 251.8 794.8 254.0C795.7 256.1 796.3 258.5 796.8 260.9C797.4 263.3 797.9 265.9 798.1 268.6C798.4 271.2 798.6 274.4 798.4 276.7C798.3 279.0 797.9 280.4 797.3 282.5C796.7 284.6 796.0 287.1 794.7 289.4C793.4 291.7 791.3 294.2 789.6 296.3C787.8 298.3 786.1 299.8 784.2 301.6C782.3 303.3 780.3 305.1 778.1 306.9C775.8 308.7 773.0 310.9 770.5 312.4C767.9 313.9 765.4 315.2 762.8 316.1C760.3 317.1 758.0 318.0 755.1 318.2C752.3 318.4 748.6 318.0 745.8 317.3C742.9 316.6 740.4 315.5 738.0 314.2C735.7 312.9 733.8 311.3 731.9 309.5C730.0 307.7 728.2 305.4 726.6 303.3C724.9 301.2 723.4 299.3 722.0 297.1C720.6 294.9 719.2 292.6 718.1 290.2C717.1 287.7 716.4 284.7 715.9 282.5C715.4 280.2 715.2 279.0 715.4 276.7C715.5 274.4 716.2 271.5 716.8 268.6C717.4 265.7 717.8 262.6 719.1 259.4C720.4 256.2 722.4 252.4 724.4 249.4C726.5 246.5 729.0 244.1 731.3 241.8C733.6 239.5 735.8 237.4 738.2 235.6C740.6 233.8 743.4 232.1 745.8 230.9C748.2 229.6 750.4 228.8 752.7 228.1C755.1 227.4 758.1 226.9 759.8 226.8Z" fill="#868686"/>
<path d="M759.7 228.3C761.3 228.2 760.9 228.7 762.6 229.1C764.4 229.4 767.9 229.9 770.1 230.6C772.4 231.2 774.3 232.0 776.1 233.1C778.0 234.2 779.7 235.8 781.3 237.4C782.9 239.0 784.2 240.8 785.6 242.7C787.1 244.6 788.8 246.8 790.1 248.7C791.3 250.7 792.5 252.5 793.4 254.6C794.3 256.7 794.9 259.0 795.4 261.3C795.9 263.7 796.4 266.2 796.6 268.7C796.9 271.2 797.1 274.3 796.9 276.5C796.8 278.8 796.4 280.1 795.8 282.1C795.2 284.2 794.6 286.6 793.3 288.8C792.1 291.0 790.0 293.4 788.3 295.4C786.6 297.3 785.0 298.8 783.2 300.5C781.3 302.2 779.5 303.9 777.3 305.7C775.1 307.4 772.4 309.5 770.0 311.0C767.5 312.5 765.1 313.7 762.6 314.6C760.2 315.6 757.9 316.5 755.2 316.7C752.4 316.9 748.9 316.5 746.1 315.8C743.4 315.2 740.9 314.1 738.7 312.8C736.4 311.6 734.6 310.0 732.7 308.3C730.9 306.5 729.2 304.3 727.6 302.3C726.0 300.2 724.6 298.4 723.2 296.2C721.9 294.1 720.5 291.9 719.5 289.6C718.5 287.2 717.8 284.3 717.4 282.1C716.9 280.0 716.7 278.8 716.9 276.5C717.0 274.3 717.7 271.5 718.3 268.7C718.9 265.9 719.3 262.9 720.5 259.9C721.7 256.8 723.7 253.1 725.7 250.3C727.6 247.5 730.1 245.2 732.3 243.0C734.5 240.7 736.5 238.7 738.8 237.0C741.2 235.2 743.8 233.6 746.2 232.3C748.5 231.1 750.6 230.3 752.9 229.6C755.1 228.9 758.1 228.4 759.7 228.3Z" fill="#949494"/>
<path d="M759.6 229.8C761.2 229.7 760.8 230.2 762.5 230.5C764.1 230.9 767.5 231.4 769.7 232.0C771.8 232.7 773.7 233.3 775.5 234.5C777.3 235.6 778.9 237.1 780.4 238.7C781.9 240.2 783.2 242.0 784.6 243.8C786.0 245.6 787.6 247.7 788.8 249.6C790.1 251.5 791.2 253.3 792.1 255.3C792.9 257.3 793.5 259.5 794.0 261.8C794.5 264.0 794.9 266.4 795.1 268.9C795.4 271.3 795.6 274.2 795.4 276.4C795.3 278.5 795.0 279.8 794.4 281.8C793.8 283.7 793.2 286.1 791.9 288.2C790.7 290.3 788.8 292.6 787.1 294.5C785.5 296.4 783.9 297.7 782.1 299.4C780.4 301.0 778.6 302.7 776.5 304.4C774.4 306.1 771.8 308.1 769.5 309.6C767.2 311.0 764.8 312.2 762.4 313.2C760.0 314.1 757.9 315.0 755.3 315.2C752.6 315.4 749.1 315.0 746.5 314.4C743.8 313.8 741.4 312.7 739.3 311.5C737.1 310.3 735.3 308.7 733.6 307.0C731.8 305.3 730.2 303.1 728.7 301.2C727.2 299.2 725.7 297.4 724.4 295.4C723.1 293.3 721.8 291.2 720.9 288.9C719.9 286.7 719.2 283.9 718.8 281.8C718.4 279.7 718.2 278.5 718.4 276.4C718.5 274.2 719.2 271.6 719.8 268.9C720.4 266.2 720.7 263.3 721.9 260.4C723.1 257.4 725.0 253.9 726.9 251.2C728.8 248.5 731.1 246.3 733.2 244.1C735.3 242.0 737.3 240.0 739.5 238.3C741.7 236.6 744.3 235.0 746.6 233.8C748.8 232.6 750.8 231.7 753.0 231.1C755.2 230.4 758.0 229.9 759.6 229.8Z" fill="#a3a3a3"/>
<path d="M759.5 231.0C761.0 230.9 760.7 231.4 762.3 231.7C763.9 232.1 767.2 232.5 769.3 233.1C771.4 233.8 773.2 234.4 774.9 235.5C776.7 236.6 778.3 238.1 779.7 239.6C781.2 241.2 782.4 242.9 783.8 244.7C785.1 246.4 786.7 248.5 787.9 250.3C789.1 252.2 790.2 253.9 791.0 255.8C791.8 257.8 792.3 259.9 792.8 262.1C793.3 264.3 793.7 266.6 793.9 269.0C794.2 271.4 794.4 274.2 794.2 276.3C794.1 278.4 793.8 279.6 793.2 281.5C792.6 283.4 792.0 285.7 790.8 287.7C789.7 289.8 787.7 292.0 786.1 293.8C784.6 295.6 783.0 296.9 781.3 298.5C779.6 300.1 777.9 301.7 775.8 303.4C773.8 305.0 771.4 307.0 769.1 308.4C766.8 309.9 764.6 311.0 762.3 312.0C760.0 312.9 757.9 313.8 755.3 314.0C752.7 314.2 749.4 313.8 746.8 313.2C744.2 312.6 741.9 311.6 739.8 310.4C737.7 309.2 735.9 307.7 734.2 306.0C732.5 304.4 731.0 302.2 729.5 300.3C728.1 298.4 726.7 296.7 725.4 294.7C724.2 292.7 722.9 290.6 722.0 288.5C721.1 286.3 720.4 283.6 720.0 281.5C719.6 279.5 719.4 278.4 719.6 276.3C719.7 274.2 720.4 271.6 721.0 269.0C721.5 266.4 721.9 263.6 723.1 260.8C724.2 257.9 726.0 254.5 727.9 251.9C729.7 249.3 732.0 247.1 734.0 245.0C736.0 243.0 737.9 241.1 740.1 239.4C742.2 237.7 744.7 236.1 746.9 234.9C749.0 233.8 751.0 232.9 753.1 232.3C755.2 231.6 758.0 231.1 759.5 231.0Z" fill="#afafaf"/>
<path d="M759.4 232.2C760.9 232.1 760.6 232.6 762.1 232.9C763.7 233.3 766.9 233.7 768.9 234.3C771.0 234.9 772.7 235.6 774.4 236.6C776.1 237.7 777.6 239.1 779.1 240.6C780.5 242.1 781.6 243.8 783.0 245.5C784.3 247.3 785.7 249.2 786.9 251.0C788.1 252.8 789.1 254.5 789.9 256.4C790.7 258.3 791.2 260.3 791.7 262.4C792.1 264.6 792.5 266.8 792.7 269.1C793.0 271.4 793.2 274.2 793.0 276.2C792.9 278.2 792.6 279.4 792.0 281.2C791.5 283.1 790.9 285.2 789.8 287.2C788.6 289.2 786.7 291.4 785.2 293.1C783.6 294.8 782.1 296.1 780.5 297.6C778.8 299.2 777.2 300.7 775.2 302.3C773.3 303.9 770.9 305.9 768.7 307.3C766.5 308.7 764.3 309.9 762.1 310.8C759.9 311.7 757.9 312.6 755.3 312.8C752.8 313.0 749.6 312.7 747.1 312.1C744.6 311.5 742.3 310.5 740.3 309.3C738.3 308.1 736.6 306.7 734.9 305.0C733.3 303.4 731.8 301.3 730.4 299.5C729.0 297.6 727.6 295.9 726.4 294.0C725.2 292.1 723.9 290.1 723.1 288.0C722.2 285.8 721.5 283.2 721.2 281.3C720.8 279.3 720.6 278.2 720.8 276.2C720.9 274.2 721.6 271.6 722.2 269.1C722.7 266.6 723.1 263.9 724.2 261.2C725.3 258.4 727.1 255.1 728.8 252.6C730.6 250.1 732.8 248.0 734.8 246.0C736.7 243.9 738.5 242.1 740.6 240.4C742.7 238.8 745.1 237.3 747.2 236.1C749.3 234.9 751.2 234.1 753.2 233.5C755.3 232.8 758.0 232.3 759.4 232.2Z" fill="#bbbbbb"/>
<path d="M759.4 233.4C760.8 233.3 760.4 233.8 762.0 234.1C763.5 234.5 766.6 234.8 768.6 235.4C770.6 236.0 772.3 236.7 773.9 237.7C775.5 238.7 777.0 240.2 778.4 241.6C779.7 243.1 780.9 244.7 782.1 246.4C783.4 248.1 784.8 250.0 785.9 251.7C787.0 253.5 788.1 255.1 788.9 256.9C789.6 258.7 790.1 260.7 790.5 262.8C791.0 264.8 791.3 267.0 791.6 269.2C791.8 271.4 792.0 274.1 791.8 276.1C791.7 278.0 791.4 279.2 790.9 280.9C790.3 282.7 789.8 284.8 788.7 286.7C787.5 288.7 785.7 290.7 784.2 292.4C782.7 294.1 781.3 295.3 779.6 296.8C778.0 298.3 776.5 299.8 774.6 301.3C772.7 302.9 770.4 304.8 768.3 306.1C766.2 307.5 764.1 308.7 761.9 309.6C759.8 310.5 757.8 311.4 755.4 311.6C753.0 311.8 749.8 311.5 747.4 310.9C744.9 310.3 742.7 309.3 740.8 308.2C738.8 307.1 737.2 305.7 735.6 304.1C734.0 302.5 732.6 300.4 731.2 298.6C729.9 296.8 728.6 295.2 727.4 293.3C726.2 291.5 725.0 289.5 724.2 287.5C723.3 285.4 722.7 282.9 722.3 281.0C722.0 279.1 721.8 278.0 722.0 276.1C722.1 274.1 722.8 271.7 723.3 269.3C723.9 266.8 724.2 264.2 725.3 261.6C726.4 258.9 728.1 255.7 729.8 253.3C731.5 250.9 733.6 248.9 735.5 246.9C737.4 244.9 739.2 243.1 741.1 241.5C743.1 239.9 745.5 238.4 747.5 237.3C749.5 236.1 751.4 235.3 753.3 234.7C755.3 234.0 757.9 233.5 759.4 233.4Z" fill="#c7c7c7"/>
<path d="M759.3 234.6C760.7 234.5 760.3 235.0 761.8 235.3C763.3 235.6 766.3 236.0 768.2 236.6C770.2 237.2 771.8 237.8 773.4 238.8C775.0 239.8 776.4 241.2 777.7 242.6C779.0 244.0 780.1 245.6 781.3 247.3C782.5 248.9 783.9 250.7 785.0 252.4C786.0 254.1 787.0 255.7 787.8 257.4C788.5 259.2 788.9 261.1 789.4 263.1C789.8 265.1 790.1 267.2 790.4 269.4C790.6 271.5 790.8 274.1 790.6 275.9C790.5 277.8 790.2 278.9 789.7 280.7C789.2 282.4 788.6 284.4 787.6 286.3C786.5 288.1 784.7 290.1 783.2 291.7C781.8 293.3 780.4 294.5 778.8 295.9C777.3 297.3 775.8 298.8 773.9 300.3C772.1 301.8 770.0 303.7 767.9 305.0C765.9 306.4 763.9 307.5 761.8 308.4C759.7 309.3 757.8 310.2 755.4 310.4C753.1 310.6 750.0 310.3 747.6 309.7C745.3 309.2 743.2 308.2 741.3 307.1C739.4 306.0 737.8 304.6 736.3 303.1C734.7 301.5 733.4 299.5 732.1 297.8C730.8 296.0 729.5 294.4 728.4 292.6C727.2 290.8 726.1 289.0 725.3 287.0C724.4 285.0 723.8 282.5 723.5 280.7C723.1 278.9 723.0 277.8 723.2 275.9C723.3 274.1 724.0 271.7 724.5 269.4C725.1 267.1 725.4 264.5 726.4 262.0C727.5 259.4 729.1 256.4 730.8 254.0C732.4 251.6 734.5 249.7 736.3 247.8C738.1 245.9 739.8 244.2 741.7 242.6C743.6 241.0 745.8 239.5 747.8 238.4C749.8 237.3 751.5 236.5 753.5 235.9C755.4 235.2 757.9 234.7 759.3 234.6Z" fill="#d1d1d1"/>
<path d="M759.2 235.8C760.6 235.7 760.2 236.2 761.7 236.5C763.1 236.8 766.0 237.2 767.9 237.7C769.7 238.3 771.3 238.9 772.9 239.9C774.4 240.8 775.7 242.2 777.0 243.6C778.3 245.0 779.3 246.5 780.5 248.1C781.6 249.7 782.9 251.5 784.0 253.1C785.0 254.8 786.0 256.2 786.7 258.0C787.4 259.7 787.8 261.6 788.2 263.5C788.6 265.4 789.0 267.4 789.2 269.5C789.4 271.5 789.6 274.0 789.5 275.8C789.4 277.7 789.0 278.7 788.5 280.4C788.0 282.0 787.5 284.0 786.5 285.8C785.4 287.5 783.7 289.5 782.2 291.0C780.8 292.6 779.5 293.7 778.0 295.0C776.5 296.4 775.1 297.8 773.3 299.3C771.6 300.7 769.5 302.6 767.5 303.9C765.6 305.2 763.6 306.3 761.6 307.2C759.6 308.1 757.8 309.0 755.5 309.2C753.2 309.4 750.2 309.1 747.9 308.6C745.7 308.0 743.6 307.1 741.8 306.0C739.9 304.9 738.4 303.6 736.9 302.1C735.5 300.6 734.2 298.6 732.9 296.9C731.6 295.2 730.5 293.7 729.4 292.0C728.3 290.2 727.1 288.4 726.4 286.5C725.6 284.6 725.0 282.2 724.7 280.4C724.3 278.6 724.2 277.7 724.3 275.8C724.5 274.0 725.2 271.8 725.7 269.5C726.3 267.3 726.6 264.9 727.6 262.4C728.6 259.9 730.2 257.0 731.7 254.7C733.3 252.4 735.3 250.6 737.1 248.7C738.8 246.9 740.4 245.2 742.2 243.7C744.1 242.1 746.2 240.7 748.1 239.6C750.0 238.5 751.7 237.7 753.6 237.0C755.4 236.4 757.9 235.9 759.2 235.8Z" fill="#d9d9d9"/>
<path d="M759.1 237.3C760.4 237.2 760.1 237.7 761.5 238.0C762.9 238.3 765.6 238.6 767.4 239.2C769.2 239.7 770.7 240.3 772.2 241.2C773.7 242.1 775.0 243.5 776.2 244.8C777.4 246.2 778.3 247.7 779.4 249.2C780.5 250.8 781.8 252.5 782.8 254.0C783.8 255.6 784.7 257.0 785.4 258.6C786.0 260.3 786.4 262.1 786.8 263.9C787.2 265.7 787.5 267.7 787.7 269.6C787.9 271.6 788.1 274.0 788.0 275.7C787.9 277.4 787.6 278.5 787.1 280.0C786.6 281.6 786.1 283.5 785.1 285.2C784.1 286.9 782.4 288.7 781.0 290.1C779.7 291.6 778.4 292.6 777.0 293.9C775.5 295.3 774.2 296.6 772.5 298.0C770.9 299.4 768.9 301.2 767.1 302.5C765.2 303.7 763.3 304.9 761.4 305.7C759.5 306.6 757.7 307.5 755.5 307.7C753.4 307.9 750.5 307.6 748.3 307.1C746.1 306.6 744.2 305.7 742.4 304.7C740.6 303.6 739.2 302.3 737.8 300.8C736.4 299.4 735.2 297.5 734.0 295.9C732.8 294.2 731.6 292.8 730.6 291.1C729.6 289.4 728.5 287.7 727.7 285.9C727.0 284.0 726.4 281.8 726.1 280.1C725.8 278.4 725.7 277.4 725.8 275.7C726.0 274.0 726.7 271.8 727.2 269.7C727.7 267.5 728.0 265.2 729.0 262.9C729.9 260.5 731.5 257.7 733.0 255.6C734.5 253.4 736.4 251.7 738.0 249.9C739.7 248.1 741.2 246.5 742.9 245.0C744.6 243.5 746.7 242.1 748.5 241.0C750.3 240.0 751.9 239.2 753.7 238.5C755.5 237.9 757.8 237.4 759.1 237.3Z" fill="#dedede"/>
<path d="M759.0 239.3C760.2 239.2 759.9 239.7 761.2 240.0C762.5 240.3 765.1 240.6 766.8 241.1C768.5 241.6 770.0 242.1 771.3 243.0C772.7 243.9 773.9 245.2 775.0 246.5C776.1 247.8 777.0 249.2 778.0 250.7C779.1 252.1 780.2 253.7 781.2 255.2C782.1 256.7 783.0 258.0 783.6 259.5C784.2 261.1 784.5 262.7 784.9 264.5C785.2 266.2 785.5 268.0 785.7 269.8C785.9 271.7 786.1 273.9 786.0 275.5C785.9 277.1 785.6 278.1 785.1 279.6C784.7 281.0 784.2 282.8 783.2 284.4C782.3 285.9 780.7 287.6 779.4 289.0C778.1 290.3 776.9 291.3 775.6 292.5C774.3 293.7 773.0 295.0 771.5 296.3C769.9 297.6 768.1 299.3 766.4 300.6C764.7 301.8 762.9 302.9 761.1 303.7C759.3 304.6 757.7 305.5 755.6 305.7C753.6 306.0 750.9 305.7 748.8 305.2C746.7 304.7 744.9 303.8 743.2 302.8C741.6 301.8 740.2 300.6 738.9 299.2C737.6 297.8 736.5 296.0 735.4 294.5C734.3 292.9 733.2 291.5 732.2 290.0C731.3 288.4 730.2 286.8 729.6 285.1C728.9 283.3 728.4 281.2 728.1 279.6C727.8 278.0 727.6 277.1 727.8 275.5C728.0 273.9 728.7 271.9 729.2 269.9C729.7 267.9 730.0 265.7 730.9 263.6C731.8 261.4 733.2 258.8 734.6 256.7C736.0 254.7 737.7 253.1 739.3 251.4C740.8 249.8 742.2 248.2 743.8 246.8C745.4 245.4 747.3 244.0 749.0 243.0C750.7 241.9 752.2 241.1 753.9 240.5C755.6 239.9 757.8 239.4 759.0 239.3Z" fill="#e3e3e3"/>
<path d="M758.8 241.8C760.0 241.7 759.7 242.2 760.9 242.4C762.1 242.7 764.5 243.0 766.1 243.5C767.6 243.9 769.0 244.4 770.2 245.3C771.5 246.1 772.6 247.3 773.6 248.5C774.6 249.7 775.4 251.1 776.3 252.5C777.2 253.8 778.3 255.3 779.1 256.7C780.0 258.0 780.8 259.2 781.3 260.6C781.9 262.1 782.2 263.6 782.5 265.2C782.8 266.8 783.0 268.4 783.2 270.1C783.4 271.8 783.6 273.8 783.5 275.3C783.4 276.8 783.1 277.6 782.7 279.0C782.3 280.3 781.8 281.9 781.0 283.4C780.1 284.8 778.6 286.3 777.4 287.5C776.2 288.7 775.1 289.6 773.9 290.7C772.7 291.8 771.5 292.9 770.2 294.2C768.8 295.4 767.2 297.0 765.6 298.2C764.0 299.4 762.4 300.4 760.8 301.3C759.1 302.1 757.6 303.0 755.7 303.2C753.8 303.5 751.3 303.2 749.4 302.8C747.5 302.3 745.8 301.5 744.3 300.6C742.8 299.6 741.5 298.4 740.3 297.1C739.1 295.8 738.1 294.1 737.1 292.7C736.1 291.2 735.2 290.0 734.3 288.5C733.4 287.1 732.5 285.6 731.8 284.0C731.2 282.5 730.8 280.5 730.5 279.0C730.3 277.6 730.1 276.8 730.3 275.3C730.5 273.8 731.2 272.0 731.7 270.1C732.2 268.3 732.4 266.4 733.2 264.4C734.1 262.4 735.3 260.0 736.6 258.2C737.9 256.4 739.5 254.9 740.9 253.4C742.3 251.8 743.5 250.4 744.9 249.0C746.4 247.7 748.1 246.4 749.6 245.4C751.2 244.4 752.6 243.6 754.1 243.0C755.7 242.4 757.7 241.9 758.8 241.8Z" fill="#e8e8e8"/>
<path d="M758.7 244.8C759.7 244.7 759.4 245.2 760.5 245.4C761.6 245.7 763.8 245.9 765.2 246.3C766.6 246.7 767.8 247.2 768.9 248.0C770.1 248.7 771.0 249.9 771.9 251.0C772.8 252.1 773.4 253.4 774.2 254.6C775.0 255.9 776.0 257.2 776.7 258.4C777.4 259.7 778.2 260.7 778.7 262.0C779.1 263.2 779.3 264.6 779.6 266.0C779.9 267.4 780.1 268.9 780.2 270.4C780.4 271.9 780.6 273.7 780.5 275.0C780.4 276.3 780.2 277.1 779.8 278.3C779.4 279.5 779.0 280.9 778.2 282.2C777.4 283.4 776.0 284.7 774.9 285.8C773.9 286.8 772.9 287.5 771.8 288.5C770.7 289.5 769.8 290.5 768.6 291.6C767.4 292.8 766.0 294.2 764.6 295.4C763.3 296.5 761.9 297.5 760.4 298.3C758.9 299.1 757.5 300.0 755.8 300.2C754.1 300.5 751.8 300.2 750.1 299.8C748.4 299.4 746.9 298.7 745.5 297.8C744.2 297.0 743.1 295.8 742.0 294.6C741.0 293.4 740.1 291.9 739.3 290.6C738.4 289.2 737.5 288.1 736.7 286.8C736.0 285.5 735.1 284.2 734.6 282.8C734.0 281.4 733.6 279.7 733.4 278.4C733.2 277.1 733.1 276.3 733.3 275.0C733.5 273.7 734.2 272.1 734.7 270.5C735.1 268.9 735.3 267.1 736.1 265.4C736.8 263.6 737.9 261.6 739.1 260.0C740.2 258.3 741.6 257.1 742.8 255.7C744.0 254.3 745.0 252.9 746.3 251.7C747.5 250.5 749.1 249.2 750.4 248.3C751.8 247.3 753.0 246.6 754.4 246.0C755.8 245.4 757.6 244.9 758.7 244.8Z" fill="#ebebeb"/>
<path d="M758.4 248.8C759.3 248.6 759.0 249.2 760.0 249.4C760.9 249.6 762.8 249.8 764.0 250.1C765.2 250.5 766.2 250.9 767.2 251.6C768.1 252.2 768.9 253.3 769.6 254.3C770.4 255.3 770.8 256.5 771.5 257.5C772.1 258.6 772.9 259.7 773.5 260.8C774.1 261.8 774.7 262.7 775.1 263.8C775.5 264.8 775.6 266.0 775.8 267.2C776.0 268.4 776.1 269.6 776.2 270.8C776.4 272.1 776.6 273.5 776.5 274.6C776.5 275.7 776.2 276.4 775.9 277.4C775.6 278.3 775.3 279.5 774.6 280.5C773.8 281.6 772.6 282.6 771.7 283.4C770.8 284.3 769.9 284.8 769.0 285.6C768.2 286.4 767.4 287.2 766.5 288.2C765.5 289.2 764.4 290.6 763.3 291.6C762.2 292.6 761.1 293.6 759.8 294.3C758.6 295.1 757.4 295.9 756.0 296.2C754.5 296.5 752.6 296.3 751.1 296.0C749.6 295.6 748.3 295.0 747.2 294.2C746.0 293.4 745.1 292.4 744.3 291.3C743.4 290.3 742.8 288.8 742.1 287.7C741.4 286.6 740.7 285.6 740.0 284.5C739.4 283.4 738.7 282.4 738.2 281.2C737.8 280.0 737.5 278.5 737.3 277.4C737.2 276.3 737.1 275.7 737.3 274.6C737.5 273.5 738.2 272.2 738.7 270.9C739.1 269.6 739.2 268.2 739.8 266.7C740.4 265.3 741.4 263.6 742.3 262.3C743.2 261.0 744.4 259.9 745.3 258.8C746.3 257.6 747.1 256.4 748.1 255.3C749.1 254.2 750.3 253.0 751.4 252.1C752.5 251.3 753.6 250.6 754.8 250.0C755.9 249.4 757.5 248.9 758.4 248.8Z" fill="#efefef"/>
<path d="M758.1 253.7C758.8 253.6 758.6 254.1 759.3 254.3C760.1 254.5 761.5 254.6 762.5 254.9C763.4 255.2 764.3 255.5 765.0 256.1C765.7 256.6 766.3 257.6 766.8 258.4C767.3 259.3 767.6 260.3 768.0 261.2C768.5 262.0 769.0 262.9 769.4 263.7C769.8 264.5 770.3 265.2 770.6 266.0C770.9 266.8 770.9 267.7 771.0 268.6C771.1 269.5 771.2 270.4 771.3 271.3C771.4 272.2 771.6 273.4 771.5 274.2C771.5 275.0 771.3 275.5 771.0 276.2C770.8 276.9 770.5 277.8 770.0 278.5C769.4 279.3 768.4 279.9 767.6 280.5C766.9 281.1 766.2 281.4 765.6 282.0C765.0 282.6 764.5 283.2 763.8 284.0C763.2 284.8 762.5 285.9 761.7 286.8C760.9 287.7 760.1 288.7 759.2 289.4C758.2 290.1 757.3 290.9 756.2 291.2C755.0 291.5 753.5 291.4 752.3 291.1C751.2 290.9 750.1 290.3 749.2 289.6C748.4 289.0 747.7 288.1 747.1 287.2C746.5 286.3 746.1 285.1 745.6 284.2C745.1 283.2 744.6 282.5 744.1 281.7C743.7 280.8 743.1 280.0 742.8 279.1C742.5 278.2 742.3 277.1 742.2 276.3C742.1 275.5 742.0 275.0 742.3 274.2C742.5 273.4 743.3 272.4 743.6 271.4C744.0 270.4 744.1 269.4 744.5 268.4C745.0 267.4 745.7 266.2 746.4 265.2C747.0 264.3 747.8 263.5 748.5 262.6C749.2 261.7 749.6 260.7 750.3 259.7C751.0 258.8 751.9 257.8 752.7 257.0C753.5 256.2 754.3 255.5 755.2 255.0C756.1 254.4 757.4 253.8 758.1 253.7Z" fill="#f0f0f0"/>
<ellipse cx="774" cy="277" rx="24" ry="34" fill="url(#hot)"/>
</g></g>
<rect x="847.7" y="209.6" width="15" height="142.4" fill="url(#cbg)" stroke="#3a3a3a" stroke-width="0.8"/>
<text x="867.8" y="356.50" font-size="14.2">0</text>
<text x="867.8" y="285.30" font-size="14.2">0.5</text>
<text x="867.8" y="214.10" font-size="14.2">1</text>
<path d="M862.7 280.8h-1.6" stroke="#333" stroke-width="0.8"/>
</svg></body></html>
